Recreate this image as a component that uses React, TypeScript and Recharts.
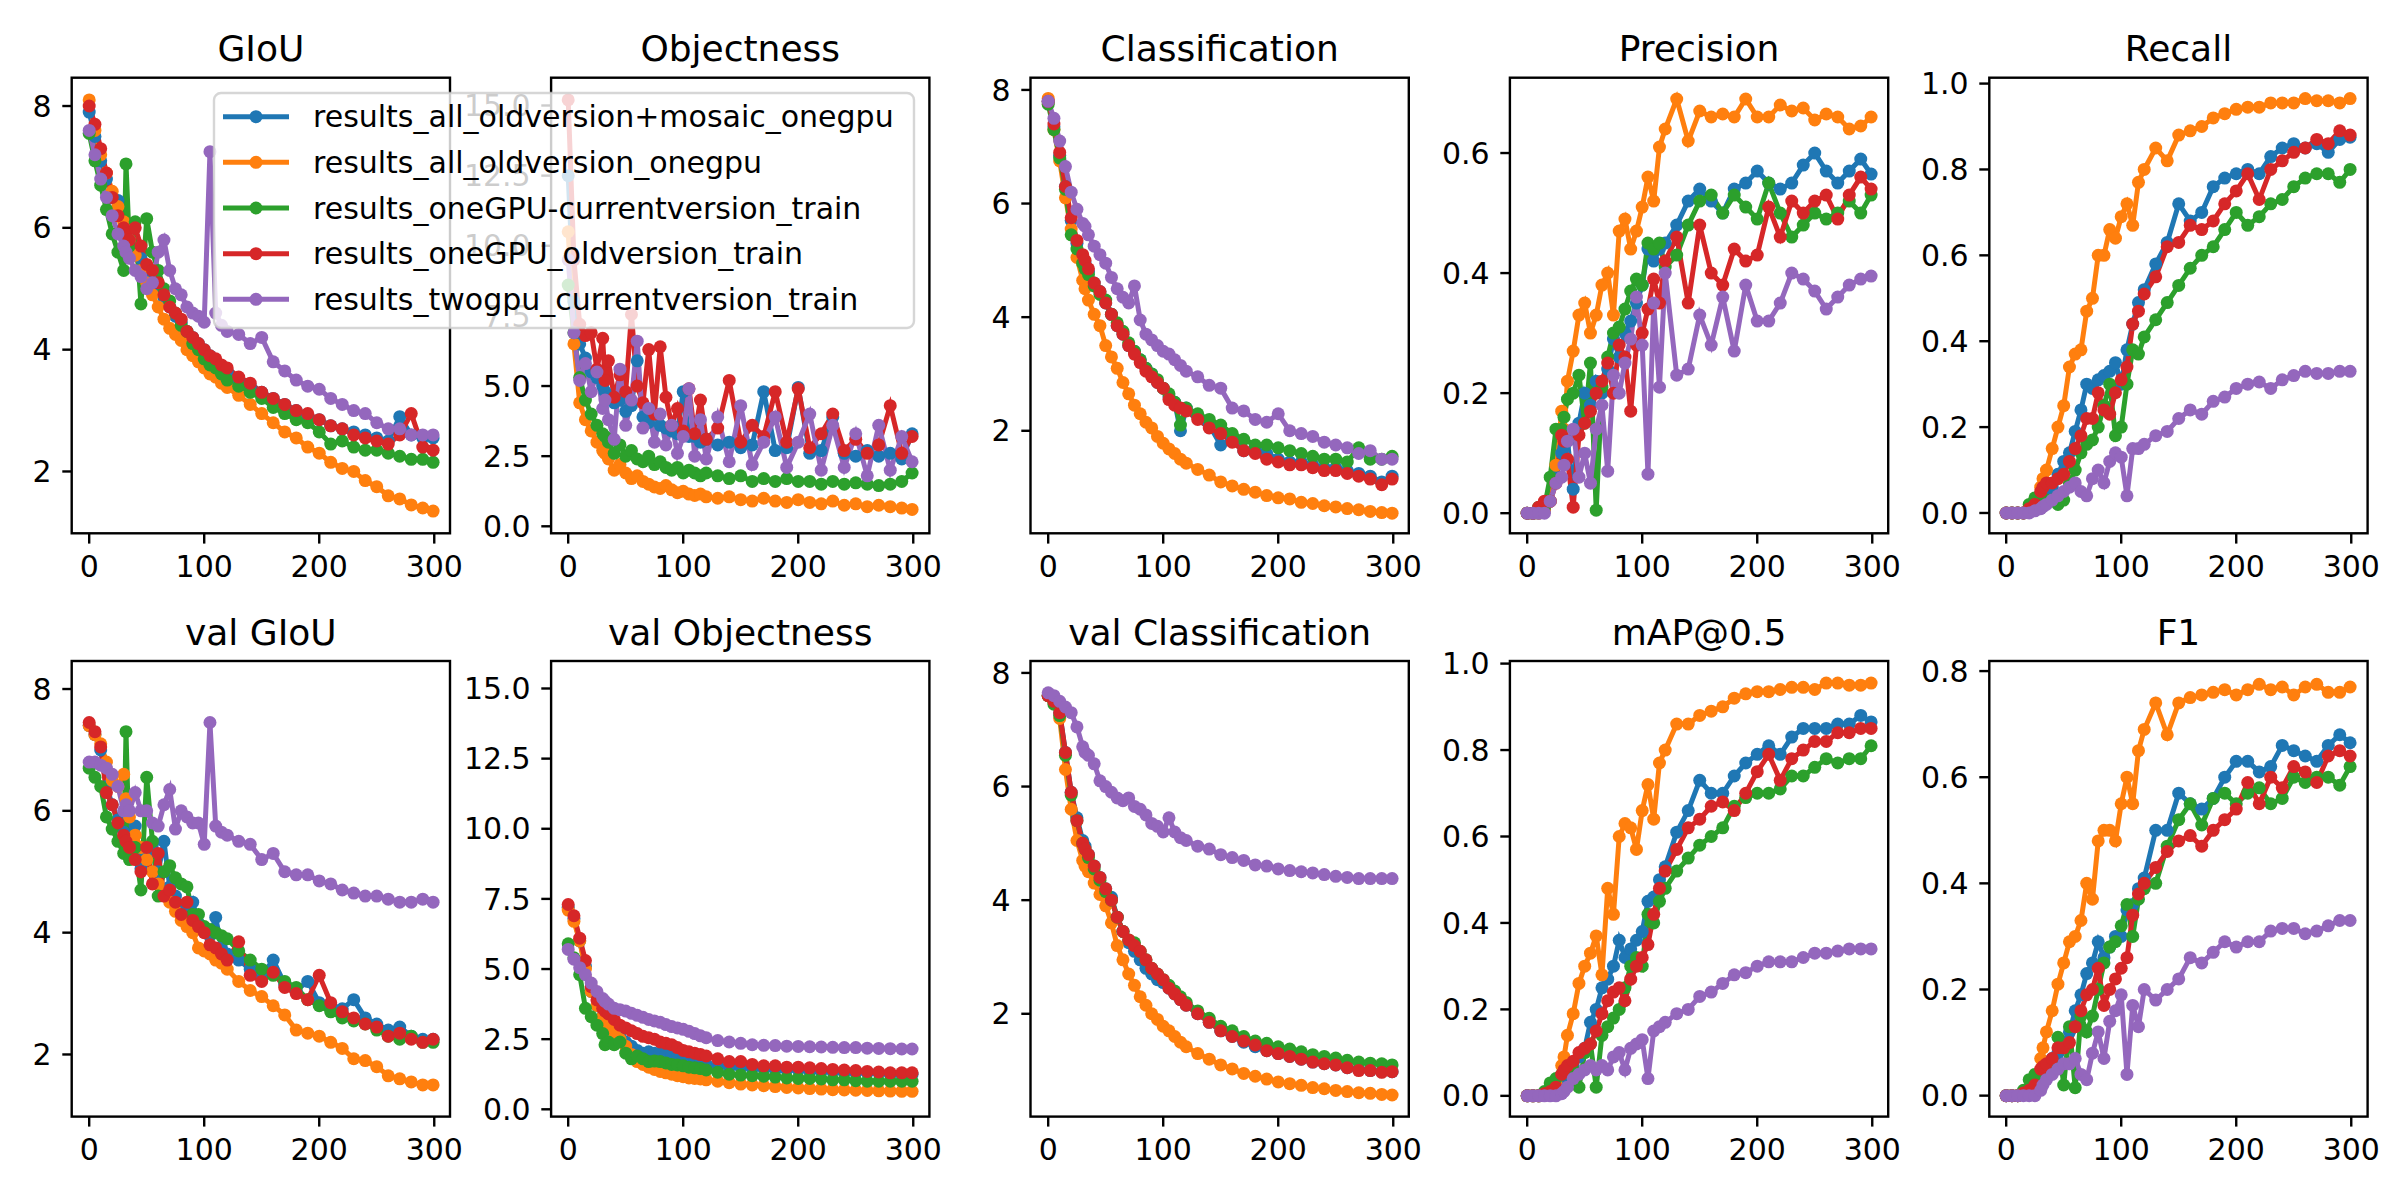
import { LineChart, Line, XAxis, YAxis } from 'recharts'

// run names, in plotting order (later runs sit on top)
const SERIES = [
  { name: 'results_all_oldversion+mosaic_onegpu', color: '#1f77b4' },
  { name: 'results_all_oldversion_onegpu', color: '#ff7f0e' },
  { name: 'results_oneGPU-currentversion_train', color: '#2ca02c' },
  { name: 'results_oneGPU_oldversion_train', color: '#d62728' },
  { name: 'results_twogpu_currentversion_train', color: '#9467bd' },
]

// sampled epochs, denser where the curves move fast
const EPOCHS = [
  0, 5, 10, 15, 20, 25, 30, 32, 35, 40, 45, 50, 55, 60, 65, 70, 75, 80, 85, 90, 95, 100, 105, 110, 115, 120,
  130, 140, 150, 160, 170, 180, 190, 200, 210, 220, 230, 240, 250, 260, 270, 280, 290, 299,
]

// each metric: one row per run, same order as SERIES
const giou = [
  [7.9, 7.5, 7.1, 6.8, 6.5, 6.45, 6.0, 5.9, 5.8, 5.6, 5.5, 5.3, 5.1, 5.0, 4.85, 4.7, 4.55, 4.45, 4.3, 4.2, 4.1, 4.0, 3.9, 3.8, 3.7, 3.65, 3.5, 3.4, 3.3, 3.2, 3.1, 3.0, 2.9, 2.85, 2.75, 2.7, 2.65, 2.6, 2.55, 2.5, 2.9, 2.6, 2.55, 2.55],
  [8.1, 7.6, 7.2, 6.9, 6.6, 6.35, 6.1, 6.0, 5.8, 5.55, 5.3, 5.1, 4.9, 4.7, 4.5, 4.35, 4.25, 4.15, 4.0, 3.9, 3.8, 3.7, 3.6, 3.55, 3.45, 3.38, 3.25, 3.1, 2.95, 2.8, 2.65, 2.55, 2.4, 2.3, 2.15, 2.05, 2.0, 1.85, 1.75, 1.6, 1.55, 1.45, 1.4, 1.35],
  [7.55, 7.1, 6.7, 6.3, 5.9, 5.6, 5.3, 7.05, 5.7, 6.1, 4.75, 6.15, 5.6, 5.3, 5.0, 4.8, 4.6, 4.4, 4.3, 4.1, 4.0, 3.85, 3.75, 3.7, 3.6, 3.5, 3.4, 3.3, 3.2, 3.05, 2.95, 2.85, 2.8, 2.65, 2.45, 2.5, 2.4, 2.35, 2.35, 2.3, 2.25, 2.2, 2.2, 2.15],
  [8.0, 7.7, 7.3, 6.9, 6.5, 6.2, 6.0, 5.9, 5.8, 6.0, 5.7, 5.4, 5.3, 5.1, 4.9, 4.7, 4.6, 4.5, 4.3, 4.2, 4.1, 4.0, 3.9, 3.85, 3.75, 3.7, 3.55, 3.45, 3.3, 3.2, 3.1, 3.0, 2.95, 2.85, 2.75, 2.7, 2.6, 2.55, 2.5, 2.45, 2.6, 2.95, 2.4, 2.35],
  [7.6, 7.2, 6.8, 6.5, 6.2, 5.9, 5.7, 5.6, 5.5, 5.3, 5.2, 5.0, 5.1, 5.6, 5.8, 5.3, 5.0, 4.9, 4.7, 4.6, 4.55, 4.45, 7.25, 4.6, 4.4, 4.3, 4.25, 4.1, 4.2, 3.8, 3.65, 3.5, 3.4, 3.35, 3.2, 3.1, 3.0, 2.95, 2.8, 2.7, 2.7, 2.6, 2.6, 2.6],
]

const objectness = [
  [12.5, 8.0, 6.5, 6.0, 5.5, 5.3, 5.0, 4.8, 4.6, 4.4, 4.5, 4.1, 4.3, 5.9, 3.9, 3.7, 4.0, 3.6, 3.5, 3.4, 3.3, 4.8, 3.2, 3.2, 3.0, 3.1, 2.9, 3.0, 2.8, 2.9, 4.8, 2.7, 2.8, 4.95, 2.6, 2.7, 3.9, 2.6, 2.5, 2.7, 2.5, 2.6, 2.4, 3.3],
  [10.5, 6.5, 4.4, 3.8, 3.4, 3.0, 2.7, 2.6, 2.4, 2.0, 2.2, 1.9, 1.7, 1.8, 1.6, 1.5, 1.4, 1.35, 1.45, 1.3, 1.2, 1.25, 1.15, 1.1, 1.15, 1.05, 1.0, 1.05, 0.95, 0.9, 1.0, 0.9, 0.85, 0.95, 0.85, 0.8, 0.9, 0.75, 0.8, 0.7, 0.75, 0.7, 0.65, 0.6],
  [8.6, 6.9, 5.3, 4.5, 4.0, 3.6, 3.3, 3.2, 3.0, 2.6, 2.9, 2.5, 2.7, 2.4, 2.3, 2.5, 2.2, 2.3, 2.1, 2.0, 2.1, 1.9, 2.0, 1.9, 1.8, 1.9, 1.8, 1.7, 1.8, 1.6, 1.7, 1.6, 1.7, 1.6, 1.6, 1.5, 1.6, 1.5, 1.55, 1.5, 1.45, 1.5, 1.6, 1.9],
  [15.2, 9.5, 7.2, 6.8, 6.9, 5.6, 6.7, 5.2, 5.9, 4.6, 5.4, 4.8, 7.55, 5.0, 4.4, 6.3, 4.0, 6.4, 4.6, 3.6, 4.2, 3.4, 4.9, 3.3, 4.5, 3.1, 3.5, 5.2, 3.0, 3.6, 3.2, 4.8, 3.0, 4.9, 2.8, 3.3, 4.0, 2.7, 3.1, 2.6, 2.9, 4.3, 2.6, 3.2],
  [9.5, 6.9, 5.2, 5.8, 4.8, 5.5, 4.2, 4.5, 3.8, 3.1, 5.6, 3.6, 4.5, 6.6, 3.5, 4.2, 3.0, 4.0, 2.9, 3.6, 2.6, 3.2, 4.9, 2.5, 3.8, 2.4, 3.9, 2.3, 4.3, 2.2, 3.0, 3.9, 2.1, 3.0, 4.0, 2.0, 3.6, 2.1, 3.3, 1.8, 3.6, 2.0, 3.2, 2.3],
]

const classification = [
  [7.8, 7.35, 6.85, 6.3, 5.7, 5.3, 5.05, 4.95, 4.8, 4.6, 4.45, 4.25, 4.05, 3.85, 3.7, 3.5, 3.4, 3.25, 3.1, 3.0, 2.85, 2.75, 2.6, 2.5, 2.0, 2.4, 2.25, 2.1, 1.75, 1.85, 1.65, 1.7, 1.6, 1.5, 1.45, 1.45, 1.4, 1.35, 1.35, 1.3, 1.25, 1.2, 1.1, 1.2],
  [7.85, 7.3, 6.75, 6.1, 5.55, 5.05, 4.65, 4.5, 4.3, 4.05, 3.85, 3.5, 3.3, 3.1, 2.85, 2.65, 2.45, 2.3, 2.15, 2.05, 1.9, 1.78, 1.68, 1.6, 1.5, 1.43, 1.32, 1.22, 1.1, 1.03, 0.97, 0.92, 0.86, 0.82, 0.8, 0.74, 0.72, 0.68, 0.66, 0.63, 0.61, 0.58, 0.56, 0.55],
  [7.75, 7.3, 6.8, 6.25, 5.45, 5.2, 4.95, 4.85, 4.75, 4.55, 4.4, 4.3, 4.05, 3.9, 3.75, 3.55, 3.4, 3.25, 3.1, 3.0, 2.9, 2.75, 2.65, 2.5, 2.1, 2.4, 2.3, 2.2, 2.1, 1.95, 1.85, 1.75, 1.75, 1.7, 1.65, 1.6, 1.55, 1.5, 1.5, 1.45, 1.7, 1.5, 1.5, 1.55],
  [7.8, 7.4, 6.9, 6.3, 5.75, 5.35, 5.1, 5.0, 4.85, 4.6, 4.45, 4.25, 4.05, 3.85, 3.7, 3.5, 3.35, 3.2, 3.05, 2.95, 2.85, 2.75, 2.55, 2.45, 2.4, 2.35, 2.2, 2.05, 1.95, 1.8, 1.65, 1.6, 1.5, 1.45, 1.4, 1.4, 1.35, 1.3, 1.3, 1.25, 1.2, 1.15, 1.05, 1.15],
  [7.8, 7.5, 7.1, 6.65, 6.2, 5.9, 5.65, 5.6, 5.45, 5.25, 5.1, 4.95, 4.7, 4.5, 4.35, 4.25, 4.55, 3.95, 3.7, 3.6, 3.5, 3.4, 3.35, 3.25, 3.15, 3.05, 2.95, 2.8, 2.75, 2.4, 2.35, 2.2, 2.15, 2.3, 2.0, 1.95, 1.9, 1.8, 1.75, 1.7, 1.6, 1.65, 1.5, 1.5],
]

const precision = [
  [0, 0, 0, 0.005, 0.02, 0.06, 0.1, 0.11, 0.12, 0.04, 0.15, 0.2, 0.18, 0.22, 0.2, 0.24, 0.29, 0.26, 0.3, 0.32, 0.35, 0.38, 0.44, 0.42, 0.44, 0.45, 0.48, 0.52, 0.54, 0.52, 0.5, 0.54, 0.55, 0.57, 0.55, 0.54, 0.55, 0.58, 0.6, 0.57, 0.55, 0.57, 0.59, 0.565],
  [0, 0, 0, 0.005, 0.02, 0.08, 0.17, 0.14, 0.22, 0.27, 0.33, 0.35, 0.3, 0.33, 0.38, 0.4, 0.33, 0.47, 0.49, 0.44, 0.47, 0.51, 0.56, 0.52, 0.61, 0.64, 0.69, 0.62, 0.67, 0.66, 0.665, 0.66, 0.69, 0.66, 0.66, 0.68, 0.67, 0.675, 0.655, 0.665, 0.66, 0.64, 0.645, 0.66],
  [0, 0, 0.01, 0.01, 0.06, 0.14, 0.14, 0.16, 0.19, 0.2, 0.23, 0.15, 0.25, 0.005, 0.21, 0.26, 0.3, 0.31, 0.34, 0.37, 0.39, 0.38, 0.45, 0.44, 0.45, 0.41, 0.43, 0.48, 0.52, 0.53, 0.5, 0.53, 0.51, 0.49, 0.55, 0.5, 0.46, 0.48, 0.5, 0.49, 0.5, 0.52, 0.5, 0.53],
  [0, 0, 0.01, 0.02, 0.02, 0.05, 0.13, 0.12, 0.09, 0.01, 0.13, 0.15, 0.17, 0.2, 0.22, 0.25, 0.2, 0.28, 0.26, 0.17, 0.28, 0.3, 0.34, 0.39, 0.35, 0.42, 0.46, 0.35, 0.48, 0.4, 0.38, 0.44, 0.42, 0.43, 0.51, 0.46, 0.52, 0.5, 0.52, 0.53, 0.49, 0.53, 0.56, 0.54],
  [0, 0, 0, 0, 0.02, 0.05, 0.06, 0.08, 0.12, 0.14, 0.06, 0.1, 0.05, 0.14, 0.18, 0.07, 0.23, 0.2, 0.25, 0.29, 0.36, 0.28, 0.065, 0.35, 0.21, 0.4, 0.23, 0.24, 0.33, 0.28, 0.36, 0.27, 0.38, 0.32, 0.32, 0.35, 0.4, 0.39, 0.37, 0.34, 0.36, 0.38, 0.39, 0.395],
]

const recall = [
  [0, 0, 0, 0, 0.01, 0.02, 0.03, 0.035, 0.04, 0.06, 0.09, 0.12, 0.14, 0.19, 0.24, 0.3, 0.29, 0.31, 0.32, 0.33, 0.35, 0.3, 0.38, 0.44, 0.49, 0.52, 0.58, 0.63, 0.72, 0.68, 0.7, 0.76, 0.78, 0.79, 0.8, 0.79, 0.83, 0.85, 0.86, 0.85, 0.86, 0.84, 0.87, 0.875],
  [0, 0, 0, 0, 0.01, 0.03, 0.06, 0.08, 0.1, 0.15, 0.2, 0.25, 0.34, 0.37, 0.38, 0.47, 0.5, 0.6, 0.6, 0.66, 0.64, 0.69, 0.72, 0.67, 0.77, 0.8, 0.85, 0.82, 0.88, 0.89, 0.9, 0.92, 0.93, 0.94, 0.945, 0.945, 0.955, 0.955, 0.955, 0.965, 0.96, 0.96, 0.955, 0.965],
  [0, 0, 0, 0, 0.02, 0.035, 0.03, 0.03, 0.03, 0.03, 0.02, 0.03, 0.07, 0.1, 0.14, 0.16, 0.17, 0.2, 0.25, 0.3, 0.18, 0.2, 0.3, 0.38, 0.37, 0.41, 0.45, 0.49, 0.53, 0.57, 0.6, 0.62, 0.66, 0.7, 0.67, 0.69, 0.72, 0.73, 0.76, 0.78, 0.79, 0.79, 0.77, 0.8],
  [0, 0, 0, 0, 0.01, 0.02, 0.05, 0.06, 0.07, 0.07, 0.08, 0.09, 0.12, 0.15, 0.18, 0.22, 0.22, 0.28, 0.24, 0.23, 0.28, 0.31, 0.34, 0.44, 0.47, 0.51, 0.55, 0.62, 0.63, 0.67, 0.66, 0.68, 0.72, 0.75, 0.79, 0.73, 0.8, 0.82, 0.84, 0.85, 0.87, 0.86, 0.89, 0.88],
  [0, 0, 0, 0, 0, 0.005, 0.01, 0.015, 0.02, 0.03, 0.04, 0.05, 0.06, 0.07, 0.05, 0.04, 0.08, 0.1, 0.07, 0.12, 0.14, 0.13, 0.04, 0.15, 0.15, 0.16, 0.18, 0.19, 0.22, 0.24, 0.23, 0.26, 0.27, 0.29, 0.3, 0.305, 0.29, 0.31, 0.32, 0.33, 0.325, 0.325, 0.33, 0.33],
]

const valGiou = [
  [7.4, 7.25, 7.0, 6.4, 6.1, 5.85, 5.65, 5.55, 5.45, 5.75, 5.05, 5.3, 5.45, 5.0, 5.5, 4.75, 4.6, 4.45, 4.3, 4.5, 4.15, 4.05, 3.95, 4.25, 3.75, 3.65, 3.55, 3.4, 3.3, 3.55, 3.15, 3.05, 3.2, 2.85, 2.8, 2.75, 2.9, 2.6, 2.5, 2.4, 2.45, 2.3, 2.25, 2.25],
  [7.4, 7.25, 7.1, 6.8, 6.5, 6.4, 6.6, 6.2, 5.9, 5.6, 5.4, 5.2, 5.0, 4.8, 4.65, 4.5, 4.35, 4.2, 4.1, 4.0, 3.75, 3.7, 3.65, 3.55, 3.5, 3.4, 3.2, 3.05, 2.95, 2.8, 2.65, 2.4, 2.35, 2.3, 2.2, 2.1, 1.93, 1.9, 1.8, 1.65, 1.6, 1.55, 1.5, 1.5],
  [6.7, 6.55, 6.4, 5.9, 5.7, 5.5, 5.3, 7.3, 5.2, 5.4, 4.7, 6.55, 5.5, 4.6, 5.0, 5.1, 4.9, 4.8, 4.75, 4.3, 4.3, 4.1, 4.05, 4.0, 3.95, 3.9, 3.7, 3.55, 3.4, 3.3, 3.2, 3.1, 2.9, 2.8, 2.7, 2.6, 2.55, 2.5, 2.4, 2.3, 2.25, 2.3, 2.2, 2.2],
  [7.45, 7.3, 7.05, 6.3, 6.1, 5.8, 5.6, 5.5, 5.4, 5.2, 5.0, 5.4, 4.8, 5.3, 4.6, 4.7, 4.5, 4.3, 4.5, 4.2, 4.1, 4.0, 3.8, 3.75, 3.65, 3.55, 3.85, 3.3, 3.2, 3.35, 3.1, 3.0, 2.9, 3.3, 2.85, 2.7, 2.6, 2.5, 2.45, 2.3, 2.35, 2.25, 2.2, 2.25],
  [6.8, 6.8, 6.75, 6.7, 6.6, 6.4, 6.0, 6.1, 6.0, 6.3, 6.0, 6.0, 5.8, 5.75, 6.1, 6.35, 5.7, 6.0, 5.9, 5.8, 5.8, 5.45, 7.45, 5.75, 5.65, 5.6, 5.5, 5.45, 5.2, 5.3, 5.0, 4.95, 4.95, 4.85, 4.8, 4.7, 4.65, 4.6, 4.6, 4.55, 4.5, 4.5, 4.55, 4.5],
]

const valObjectness = [
  [7.2, 6.8, 6.0, 5.1, 4.2, 3.7, 3.3, 3.2, 3.0, 2.8, 2.6, 2.4, 2.25, 2.1, 2.0, 2.05, 2.0, 2.0, 1.95, 1.9, 1.85, 1.8, 1.75, 1.7, 1.65, 1.6, 1.55, 1.5, 1.5, 1.45, 1.45, 1.4, 1.4, 1.4, 1.35, 1.35, 1.35, 1.3, 1.3, 1.3, 1.3, 1.25, 1.25, 1.25],
  [7.1, 6.7, 6.0, 5.0, 4.2, 3.7, 3.3, 3.2, 3.0, 2.75, 2.5, 2.25, 1.95, 1.7, 1.6, 1.5, 1.42, 1.35, 1.3, 1.25, 1.2, 1.16, 1.12, 1.1, 1.08, 1.05, 1.0, 0.95, 0.9, 0.87, 0.84, 0.81, 0.78, 0.76, 0.74, 0.72, 0.7, 0.69, 0.68, 0.67, 0.66, 0.65, 0.64, 0.64],
  [5.9, 5.4, 4.8, 3.6, 3.3, 3.0, 2.7, 2.3, 2.4, 2.3, 2.4, 2.0, 1.8, 1.9, 1.8, 1.7, 1.72, 1.7, 1.65, 1.6, 1.58, 1.55, 1.5, 1.48, 1.45, 1.4, 1.32, 1.25, 1.22, 1.2, 1.18, 1.15, 1.12, 1.1, 1.1, 1.08, 1.05, 1.05, 1.02, 1.0, 1.0, 1.0, 1.0, 1.0],
  [7.3, 6.9, 6.1, 5.3, 4.37, 3.9, 3.6, 3.5, 3.4, 3.2, 3.0, 2.9, 2.8, 2.7, 2.6, 2.55, 2.5, 2.4, 2.35, 2.3, 2.2, 2.1, 2.05, 2.0, 1.95, 1.9, 1.8, 1.7, 1.7, 1.6, 1.55, 1.55, 1.5, 1.5, 1.48, 1.45, 1.42, 1.4, 1.38, 1.35, 1.33, 1.3, 1.3, 1.3],
  [5.7, 5.35, 5.05, 4.8, 4.5, 4.2, 3.95, 3.85, 3.75, 3.6, 3.55, 3.5, 3.42, 3.35, 3.28, 3.2, 3.15, 3.1, 3.02, 2.95, 2.9, 2.85, 2.78, 2.7, 2.62, 2.55, 2.45, 2.4, 2.35, 2.3, 2.28, 2.27, 2.25, 2.24, 2.23, 2.22, 2.21, 2.2, 2.2, 2.18, 2.17, 2.16, 2.15, 2.15],
]

const valClassification = [
  [7.6, 7.5, 7.3, 6.6, 5.9, 5.45, 5.05, 4.95, 4.8, 4.6, 4.4, 4.2, 4.05, 3.7, 3.45, 3.25, 3.1, 2.95, 2.8, 2.7, 2.6, 2.55, 2.45, 2.35, 2.25, 2.15, 2.0, 1.85, 1.7, 1.6, 1.5, 1.42, 1.35, 1.3, 1.25, 1.2, 1.15, 1.12, 1.1, 1.05, 1.02, 1.0, 0.98, 0.98],
  [7.6, 7.5, 7.2, 6.3, 5.6, 5.05, 4.7, 4.6, 4.5, 4.3, 4.1, 3.9, 3.6, 3.2, 2.95, 2.7, 2.5, 2.3, 2.15, 2.0, 1.9, 1.78, 1.7, 1.6, 1.5, 1.42, 1.3, 1.2, 1.1, 1.03, 0.95, 0.9, 0.85, 0.8, 0.77, 0.74, 0.7, 0.68, 0.65, 0.63, 0.61, 0.6, 0.58, 0.57],
  [7.6, 7.45, 7.25, 6.55, 5.85, 5.4, 5.0, 4.9, 4.75, 4.55, 4.35, 4.15, 4.0, 3.7, 3.45, 3.3, 3.25, 3.1, 2.95, 2.8, 2.7, 2.6, 2.5, 2.4, 2.3, 2.2, 2.05, 1.92, 1.78, 1.7, 1.6, 1.52, 1.48, 1.42, 1.38, 1.33, 1.28, 1.25, 1.22, 1.18, 1.15, 1.13, 1.12, 1.1],
  [7.6, 7.5, 7.3, 6.6, 5.9, 5.4, 5.0, 4.9, 4.8, 4.6, 4.4, 4.2, 4.0, 3.7, 3.45, 3.3, 3.2, 3.1, 2.95, 2.8, 2.7, 2.6, 2.45, 2.35, 2.25, 2.15, 2.0, 1.85, 1.7, 1.6, 1.52, 1.45, 1.35, 1.3, 1.25, 1.2, 1.15, 1.12, 1.1, 1.05, 1.0, 1.0, 0.97, 0.98],
  [7.65, 7.6, 7.5, 7.4, 7.3, 7.05, 6.7, 6.6, 6.55, 6.4, 6.1, 6.0, 5.9, 5.8, 5.75, 5.8, 5.65, 5.6, 5.5, 5.35, 5.3, 5.2, 5.45, 5.2, 5.1, 5.05, 4.95, 4.9, 4.8, 4.75, 4.7, 4.62, 4.6, 4.55, 4.52, 4.5, 4.48, 4.45, 4.42, 4.4, 4.38, 4.38, 4.38, 4.38],
]

const map50 = [
  [0, 0, 0, 0.005, 0.01, 0.02, 0.04, 0.045, 0.05, 0.07, 0.09, 0.11, 0.17, 0.2, 0.25, 0.27, 0.3, 0.36, 0.32, 0.34, 0.36, 0.38, 0.45, 0.46, 0.5, 0.53, 0.61, 0.66, 0.73, 0.7, 0.7, 0.74, 0.77, 0.79, 0.81, 0.79, 0.83, 0.85, 0.85, 0.85, 0.86, 0.86, 0.88, 0.865],
  [0, 0, 0, 0.005, 0.01, 0.03, 0.07, 0.09, 0.14, 0.19, 0.26, 0.3, 0.33, 0.37, 0.28, 0.48, 0.42, 0.6, 0.63, 0.62, 0.57, 0.66, 0.72, 0.64, 0.77, 0.8, 0.86, 0.86, 0.88, 0.89, 0.9, 0.92, 0.93, 0.935, 0.935, 0.94, 0.945, 0.945, 0.94, 0.955, 0.955, 0.95, 0.95, 0.955],
  [0, 0, 0, 0.01, 0.03, 0.04, 0.05, 0.055, 0.06, 0.06, 0.02, 0.1, 0.12, 0.02, 0.14, 0.16, 0.18, 0.2, 0.25, 0.3, 0.32, 0.3, 0.42, 0.4, 0.45, 0.48, 0.52, 0.55, 0.58, 0.6, 0.62, 0.67, 0.69, 0.7, 0.7, 0.71, 0.74, 0.74, 0.76, 0.78, 0.77, 0.78, 0.78, 0.81],
  [0, 0, 0, 0.005, 0.01, 0.02, 0.05, 0.06, 0.07, 0.08, 0.1, 0.11, 0.12, 0.15, 0.19, 0.22, 0.24, 0.25, 0.22, 0.27, 0.3, 0.32, 0.35, 0.42, 0.48, 0.52, 0.57, 0.62, 0.64, 0.67, 0.68, 0.66, 0.7, 0.75, 0.79, 0.73, 0.78, 0.8, 0.82, 0.82, 0.84, 0.84, 0.85, 0.85],
  [0, 0, 0, 0, 0, 0, 0.005, 0.01, 0.02, 0.04, 0.05, 0.06, 0.07, 0.06, 0.07, 0.06, 0.09, 0.1, 0.06, 0.11, 0.12, 0.13, 0.04, 0.15, 0.16, 0.17, 0.19, 0.2, 0.23, 0.24, 0.26, 0.28, 0.285, 0.3, 0.31, 0.31, 0.31, 0.32, 0.33, 0.33, 0.335, 0.34, 0.34, 0.34],
]

const f1 = [
  [0, 0, 0, 0.005, 0.01, 0.02, 0.04, 0.045, 0.05, 0.07, 0.08, 0.1, 0.12, 0.16, 0.19, 0.23, 0.25, 0.29, 0.26, 0.28, 0.3, 0.3, 0.35, 0.36, 0.39, 0.41, 0.5, 0.5, 0.57, 0.55, 0.54, 0.56, 0.6, 0.63, 0.63, 0.61, 0.62, 0.66, 0.65, 0.64, 0.63, 0.66, 0.68, 0.665],
  [0, 0, 0, 0.005, 0.01, 0.03, 0.07, 0.09, 0.12, 0.16, 0.21, 0.25, 0.29, 0.3, 0.33, 0.4, 0.37, 0.48, 0.5, 0.5, 0.48, 0.55, 0.6, 0.55, 0.65, 0.69, 0.74, 0.68, 0.74, 0.75, 0.755, 0.76, 0.765, 0.755, 0.765, 0.775, 0.765, 0.77, 0.755, 0.77, 0.775, 0.76, 0.76, 0.77],
  [0, 0, 0, 0.01, 0.03, 0.04, 0.04, 0.05, 0.05, 0.06, 0.11, 0.02, 0.13, 0.015, 0.15, 0.12, 0.15, 0.2, 0.25, 0.28, 0.29, 0.32, 0.36, 0.3, 0.37, 0.39, 0.4, 0.47, 0.52, 0.55, 0.51, 0.56, 0.57, 0.55, 0.57, 0.58, 0.55, 0.56, 0.6, 0.59, 0.6, 0.6, 0.585, 0.62],
  [0, 0, 0, 0.005, 0.01, 0.02, 0.05, 0.055, 0.06, 0.07, 0.09, 0.09, 0.1, 0.13, 0.16, 0.19, 0.2, 0.24, 0.17, 0.2, 0.22, 0.24, 0.26, 0.34, 0.38, 0.4, 0.43, 0.46, 0.48, 0.49, 0.47, 0.5, 0.52, 0.54, 0.59, 0.55, 0.6, 0.58, 0.62, 0.61, 0.59, 0.64, 0.65, 0.64],
  [0, 0, 0, 0, 0, 0, 0.01, 0.02, 0.03, 0.04, 0.05, 0.06, 0.06, 0.07, 0.04, 0.03, 0.08, 0.12, 0.07, 0.14, 0.16, 0.19, 0.04, 0.17, 0.13, 0.2, 0.18, 0.2, 0.22, 0.26, 0.25, 0.27, 0.29, 0.28, 0.29, 0.29, 0.31, 0.315, 0.315, 0.305, 0.31, 0.32, 0.33, 0.33],
]

// losses share their y range with the matching validation loss
const GIOU_Y = [0.98, 8.46]
const OBJ_Y = [-0.26, 15.98]
const CLS_Y = [0.19, 8.21]
const LOSS_TICKS = [2, 4, 6, 8]
const OBJ_TICKS = [0, 2.5, 5, 7.5, 10, 12.5, 15]
const UNIT_TICKS = [0, 0.2, 0.4, 0.6, 0.8, 1.0]

const PANELS = [
  { title: 'GIoU', values: giou, domain: GIOU_Y, ticks: LOSS_TICKS, digits: 0 },
  { title: 'Objectness', values: objectness, domain: OBJ_Y, ticks: OBJ_TICKS, digits: 1 },
  { title: 'Classification', values: classification, domain: CLS_Y, ticks: LOSS_TICKS, digits: 0 },
  { title: 'Precision', values: precision, domain: [-0.034, 0.725], ticks: [0, 0.2, 0.4, 0.6], digits: 1 },
  { title: 'Recall', values: recall, domain: [-0.048, 1.013], ticks: UNIT_TICKS, digits: 1 },
  { title: 'val GIoU', values: valGiou, domain: GIOU_Y, ticks: LOSS_TICKS, digits: 0 },
  { title: 'val Objectness', values: valObjectness, domain: OBJ_Y, ticks: OBJ_TICKS, digits: 1 },
  { title: 'val Classification', values: valClassification, domain: CLS_Y, ticks: LOSS_TICKS, digits: 0 },
  { title: 'mAP@0.5', values: map50, domain: [-0.048, 1.006], ticks: UNIT_TICKS, digits: 1 },
  { title: 'F1', values: f1, domain: [-0.0395, 0.819], ticks: [0, 0.2, 0.4, 0.6, 0.8], digits: 1 },
]

const X_DOMAIN = [-14.95, 313.95]
const X_TICKS = [0, 100, 200, 300]

// subplot grid geometry
const COL_X = [71.7, 551.1, 1030.5, 1509.9, 1989.3]
const ROW_Y = [77.7, 661]
const PLOT_W = 378.3
const PLOT_H = 455.6
const PAD_L = 110
const PAD_R = 50
const PAD_T = 12
const PAD_B = 75

const FONT = 'DejaVu Sans'
const TICK_TEXT = { fill: '#000', fontSize: 30, fontFamily: FONT }
const TICK_LINE = { stroke: '#000', strokeWidth: 2.4 }

function Panel({ panel, left, top }: { panel: (typeof PANELS)[number]; left: number; top: number }) {
  const rows = EPOCHS.map((epoch, i) => {
    const row: Record<string, number> = { epoch }
    panel.values.forEach((vals, s) => {
      row[`s${s}`] = vals[i]
    })
    return row
  })
  return (
    <div style={{ position: 'absolute', left: left - PAD_L, top: top - PAD_T }}>
      <LineChart
        width={PLOT_W + PAD_L + PAD_R}
        height={PLOT_H + PAD_T + PAD_B}
        data={rows}
        margin={{ top: PAD_T, right: PAD_R, bottom: 0, left: 0 }}
      >
        <XAxis
          dataKey="epoch"
          type="number"
          domain={X_DOMAIN}
          ticks={X_TICKS}
          allowDataOverflow
          interval={0}
          height={PAD_B}
          axisLine={false}
          tickLine={TICK_LINE}
          tickSize={10}
          tickMargin={12}
          tick={TICK_TEXT}
        />
        <YAxis
          type="number"
          domain={panel.domain}
          ticks={panel.ticks}
          allowDataOverflow
          interval={0}
          width={PAD_L}
          axisLine={false}
          tickLine={TICK_LINE}
          tickSize={9.7}
          tickMargin={10.6}
          tick={TICK_TEXT}
          tickFormatter={(v: number) => v.toFixed(panel.digits)}
        />
        {SERIES.map((s, i) => (
          <Line
            key={s.name}
            dataKey={`s${i}`}
            type="linear"
            stroke={s.color}
            strokeWidth={5}
            dot={{ r: 6.5, fill: s.color, stroke: s.color, strokeWidth: 0 }}
            activeDot={false}
            isAnimationActive={false}
          />
        ))}
      </LineChart>
    </div>
  )
}

export default function App() {
  const legendX = 214
  const legendY = 93
  const rowGap = 45.65
  return (
    <div style={{ position: 'absolute', left: 0, top: 0, width: 2400, height: 1200, background: '#fff', overflow: 'hidden' }}>
      {PANELS.map((p, i) => (
        <Panel key={p.title} panel={p} left={COL_X[i % 5]} top={ROW_Y[Math.floor(i / 5)]} />
      ))}
      <svg width={2400} height={1200} style={{ position: 'absolute', left: 0, top: 0, pointerEvents: 'none' }}>
        {PANELS.map((p, i) => {
          const x = COL_X[i % 5]
          const y = ROW_Y[Math.floor(i / 5)]
          return (
            <g key={p.title}>
              <rect x={x} y={y} width={PLOT_W} height={PLOT_H} fill="none" stroke="#000" strokeWidth={2.4} />
              <text x={x + PLOT_W / 2} y={y - 16.5} textAnchor="middle" fontFamily={FONT} fontSize={36} fill="#000">
                {p.title}
              </text>
            </g>
          )
        })}
        {/* legend shared by all subplots, drawn over the first two */}
        <rect x={legendX} y={legendY} width={700} height={235} rx={7} fill="#fff" fillOpacity={0.8} stroke="#cccccc" strokeOpacity={0.8} strokeWidth={2.4} />
        {SERIES.map((s, i) => {
          const cy = legendY + 23.7 + i * rowGap
          return (
            <g key={s.name}>
              <line x1={223} x2={289} y1={cy} y2={cy} stroke={s.color} strokeWidth={5} />
              <circle cx={256} cy={cy} r={6.5} fill={s.color} />
              <text x={313} y={cy + 10.5} fontFamily={FONT} fontSize={30} fill="#000">
                {s.name}
              </text>
            </g>
          )
        })}
      </svg>
    </div>
  )
}
